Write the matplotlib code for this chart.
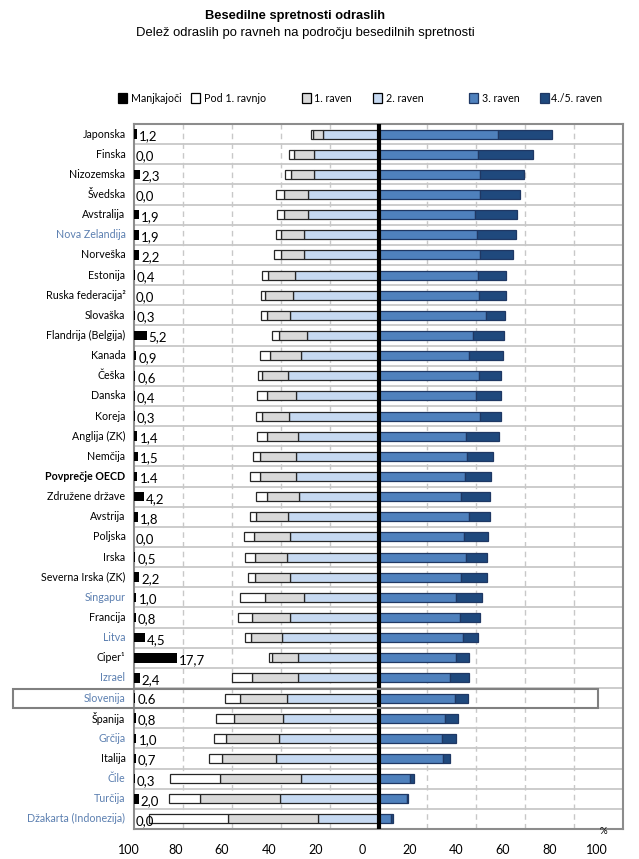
import matplotlib
matplotlib.use("Agg")
import matplotlib.pyplot as plt
from matplotlib.patches import Rectangle
import numpy as np

countries = ["Japonska", "Finska", "Nizozemska", "Švedska", "Avstralija", "Nova Zelandija",
             "Norveška", "Estonija", "Ruska federacija²", "Slovaška", "Flandrija (Belgija)",
             "Kanada", "Češka", "Danska", "Koreja", "Anglija (ZK)", "Nemčija", "Povprečje OECD",
             "Združene države", "Avstrija", "Poljska", "Irska", "Severna Irska (ZK)", "Singapur",
             "Francija", "Litva", "Ciper¹", "Izrael", "Slovenija", "Španija", "Grčija", "Italija",
             "Čile", "Turčija", "Džakarta (Indonezija)"]
blue_label = ["Nova Zelandija", "Singapur", "Litva", "Izrael", "Slovenija", "Grčija", "Čile",
              "Turčija", "Džakarta (Indonezija)"]

below1 = [1.1, 2.4, 2.7, 3.3, 3.1, 2.3, 2.9, 2.5, 1.5, 2.1, 2.6, 4.2, 1.4, 3.7, 2.2, 3.7, 2.9,
          4.2, 4.1, 2.6, 4.1, 4.1, 2.7, 10.2, 5.6, 2.6, 1.3, 8.2, 6.1, 7.1, 4.9, 5.5, 20.3, 12.6, 32.2]
level1 = [3.8, 8.2, 9.3, 9.7, 9.7, 9.4, 9.4, 10.8, 11.6, 9.8, 11.5, 12.3, 10.5, 12.0, 10.9, 12.8,
          14.5, 14.5, 13.3, 12.7, 14.7, 13.1, 14.7, 16.1, 15.8, 12.7, 10.4, 18.8, 19.0, 20.4, 21.5,
          22.1, 33.3, 32.7, 36.7]
level2 = [22.8, 26.2, 26.3, 29.0, 28.9, 30.3, 30.3, 34.2, 34.8, 36.0, 29.3, 31.9, 37.2, 33.8, 36.8,
          33.0, 33.8, 33.8, 32.5, 37.2, 36.4, 37.6, 36.0, 30.3, 36.0, 39.5, 33.0, 33.0, 37.6, 38.9,
          40.8, 41.8, 31.5, 40.2, 24.8]
level3 = [48.7, 40.7, 41.5, 41.5, 39.4, 40.2, 41.5, 40.6, 40.9, 44.1, 38.5, 37.1, 41.1, 39.8, 41.6,
          35.7, 36.4, 35.3, 33.8, 37.1, 34.8, 35.7, 33.8, 31.9, 33.5, 34.4, 31.9, 29.3, 31.1, 27.3,
          25.8, 26.2, 13.0, 11.5, 5.2]
level45 = [22.1, 22.3, 18.0, 16.3, 17.1, 15.9, 13.6, 11.5, 11.2, 7.6, 12.8, 13.8, 9.0, 10.3, 8.5,
           13.4, 10.5, 10.7, 11.8, 8.5, 9.9, 8.6, 10.5, 10.5, 8.1, 6.2, 5.2, 7.8, 5.4, 5.2, 5.8,
           3.1, 1.6, 0.5, 0.7]
missing = [1.2, 0.0, 2.3, 0.0, 1.9, 1.9, 2.2, 0.4, 0.0, 0.3, 5.2, 0.9, 0.6, 0.4, 0.3, 1.4, 1.5,
           1.4, 4.2, 1.8, 0.0, 0.5, 2.2, 1.0, 0.8, 4.5, 17.7, 2.4, 0.6, 0.8, 1.0, 0.7, 0.3, 2.0, 0.0]
missing_text = ["1,2", "0,0", "2,3", "0,0", "1,9", "1,9", "2,2", "0,4", "0,0", "0,3", "5,2", "0,9",
                "0,6", "0,4", "0,3", "1,4", "1,5", "1.4", "4,2", "1,8", "0,0", "0,5", "2,2", "1,0",
                "0,8", "4,5", "17,7", "2,4", "0.6", "0,8", "1,0", "0,7", "0,3", "2,0", "0,0"]
tick_text = ["100", "80", "60", "40", "20", "0", "20", "40", "60", "80", "100"]
legend_names = ["Manjkajoči", "Pod 1. ravnjo", "1. raven", "2. raven", "3. raven", "4./5. raven"]

c_missing = "#000000"
c_below = "#FFFFFF"
c_l1 = "#D9D9D9"
c_l2 = "#C6D9F1"
c_l3 = "#4F81BD"
c_l45 = "#1F497D"
label_blue = "#5B7FB0"

W, H = 639, 859
fig = plt.figure(figsize=(W / 100, H / 100), dpi=100)
ax = fig.add_axes([134 / W, 1 - 829 / H, (623 - 134) / W, (829 - 124) / H])

n = len(countries)
y = np.arange(n)
b1 = np.array(below1); l1 = np.array(level1); l2 = np.array(level2)
l3 = np.array(level3); l45 = np.array(level45); ms = np.array(missing)

bh = 0.45
ekl = "#262626"
ekr = "#1F3864"
ax.barh(y, -l2, left=0, height=bh, color=c_l2, edgecolor=ekl, linewidth=0.9, zorder=3)
ax.barh(y, -l1, left=-l2, height=bh, color=c_l1, edgecolor=ekl, linewidth=0.9, zorder=3)
ax.barh(y, -b1, left=-(l2 + l1), height=bh, color=c_below, edgecolor=ekl, linewidth=0.9, zorder=3)
ax.barh(y, l3, left=0, height=bh, color=c_l3, edgecolor=ekr, linewidth=0.9, zorder=3)
ax.barh(y, l45, left=l3, height=bh, color=c_l45, edgecolor=ekr, linewidth=0.9, zorder=3)
ax.barh(y, ms, left=-100, height=0.48, color=c_missing, edgecolor="none", zorder=3)

for i in range(n):
    ax.text(-100 + ms[i] + 0.8, y[i] + 0.1, missing_text[i], ha="left", va="center",
            fontsize=9.5, family="Lato", color="#000000", zorder=4)

ax.set_xlim(-100, 100)
ax.set_ylim(n - 0.5, -0.5)

# grid
for yy in np.arange(n - 1) + 0.5:
    ax.axhline(yy, color="#C8C8C8", linewidth=1.3, zorder=1)
for xx in [-80, -60, -40, -20, 20, 40, 60, 80]:
    ax.axvline(xx, color="#C8C8C8", linewidth=1.0, linestyle=(0, (4, 3)), zorder=1)
ax.axvline(0, color="#000000", linewidth=3.0, zorder=5)

for s in ax.spines.values():
    s.set_color("#8C8C8C")
    s.set_linewidth(1.5)
ax.set_yticks([])
ax.set_xticks([])

# country labels
for i, c in enumerate(countries):
    col = label_blue if c in blue_label else "#000000"
    fw = "bold" if c == "Povprečje OECD" else "normal"
    ax.text(-103.5, y[i], c, ha="right", va="center", fontsize=7.7, family="Lato",
            color=col, fontweight=fw, clip_on=False)

# x tick labels (placed as in the reference)
px_per_unit = (623 - 134) / 200.0
ylab = -(850 - 829) / (829 - 124)
for k, t in enumerate(tick_text):
    xp = 129 + 46.8 * k
    xd = (xp - 379) / px_per_unit
    ax.text(xd, ylab, t, transform=ax.get_xaxis_transform(), ha="center", va="center",
            fontsize=9, family="Lato", color="#000000", clip_on=False)
ax.text((604 - 379) / px_per_unit, -(832 - 829) / (829 - 124), "%",
        transform=ax.get_xaxis_transform(), ha="center", va="center", fontsize=7,
        family="Lato", clip_on=False)

# Slovenia highlight box
si = countries.index("Slovenija")
x0 = (13 - 379) / px_per_unit
x1 = (598 - 379) / px_per_unit
ax.add_patch(Rectangle((x0, si - 0.47), x1 - x0, 0.94, fill=False, edgecolor="#808080",
                       linewidth=1.5, clip_on=False, zorder=6))

# titles
fig.text(295 / W, 1 - 16 / H, "Besedilne spretnosti odraslih", ha="center", va="center",
         fontsize=9.3, fontweight="bold", family="Liberation Sans")
fig.text(305 / W, 1 - 33 / H, "Delež odraslih po ravneh na področju besedilnih spretnosti",
         ha="center", va="center", fontsize=9.4, family="Liberation Sans")

# legend
leg_cols = [c_missing, c_below, c_l1, c_l2, c_l3, c_l45]
leg_sq = [118, 191, 302, 373, 469, 540]
leg_tx = [131, 204, 314, 386, 482, 551]
sq = 9
for col, xs, xt, name in zip(leg_cols, leg_sq, leg_tx, legend_names):
    ec = "#000000" if col in (c_missing, c_below, c_l1, c_l2) else "#1F3864"
    fig.patches.append(Rectangle((xs / W, 1 - (98 + sq / 2) / H), sq / W, sq / H,
                                 transform=fig.transFigure, facecolor=col, edgecolor=ec,
                                 linewidth=0.9))
    fig.text(xt / W, 1 - 98 / H, name, ha="left", va="center", fontsize=7.7, family="Lato")

fig.savefig("out.png", dpi=100)
